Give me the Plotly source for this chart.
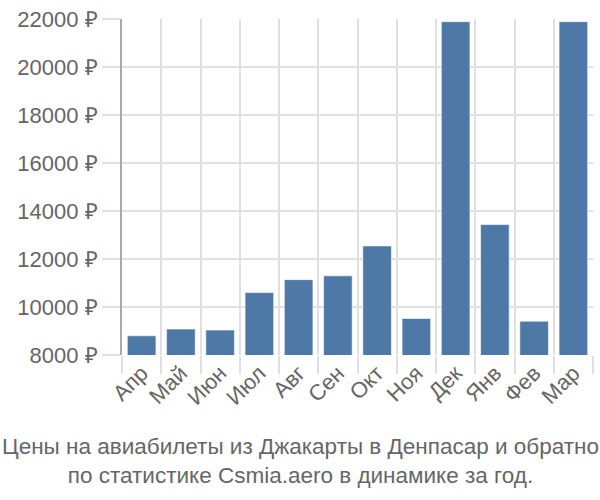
import plotly.graph_objects as go

months = ["Апр", "Май", "Июн", "Июл", "Авг", "Сен", "Окт", "Ноя", "Дек", "Янв", "Фев", "Мар"]
prices = [8800, 9080, 9040, 10600, 11140, 11300, 12545, 9520, 21890, 13435, 9410, 21890]
y_ticks = [8000, 10000, 12000, 14000, 16000, 18000, 20000, 22000]
y_tick_labels = [f"{v} ₽" for v in y_ticks]
title_lines = ["Цены на авиабилеты из Джакарты в Денпасар и обратно",
               "по статистике Csmia.aero в динамике за год."]

fig = go.Figure(go.Bar(
    x=months, y=prices,
    marker=dict(color="#4e79a7", line=dict(color="rgba(255,255,255,0.6)", width=1)),
))

font = dict(family="Liberation Sans, Arial, sans-serif", size=22, color="#666666")
fig.update_layout(
    width=600, height=500,
    margin=dict(l=122, r=7, t=14, b=145),
    paper_bgcolor="white", plot_bgcolor="white",
    bargap=0.27, showlegend=False, font=font,
    xaxis=dict(showgrid=True, gridcolor="#e0e0e0", gridwidth=2, tickangle=-45,
               ticks="outside", ticklen=18, tickcolor="#e0e0e0", tickwidth=2,
               tickson="boundaries", showline=False, zeroline=False, tickfont=font),
    yaxis=dict(range=[8000, 22000], tickvals=y_ticks, ticktext=y_tick_labels,
               showgrid=True, gridcolor="#e0e0e0", gridwidth=2,
               ticks="outside", ticklen=18, tickcolor="#e0e0e0", tickwidth=2,
               showline=True, linecolor="#aaaaaa", linewidth=2, zeroline=False,
               tickfont=font),
)
fig.add_annotation(text="<br>".join(title_lines), xref="paper", yref="paper",
                   x=0.5, y=0, xshift=300 - 357.5, yshift=-145 + 10,
                   xanchor="center", yanchor="bottom",
                   showarrow=False, font=dict(font, size=22.5), align="center")
fig.write_html("out.html")
